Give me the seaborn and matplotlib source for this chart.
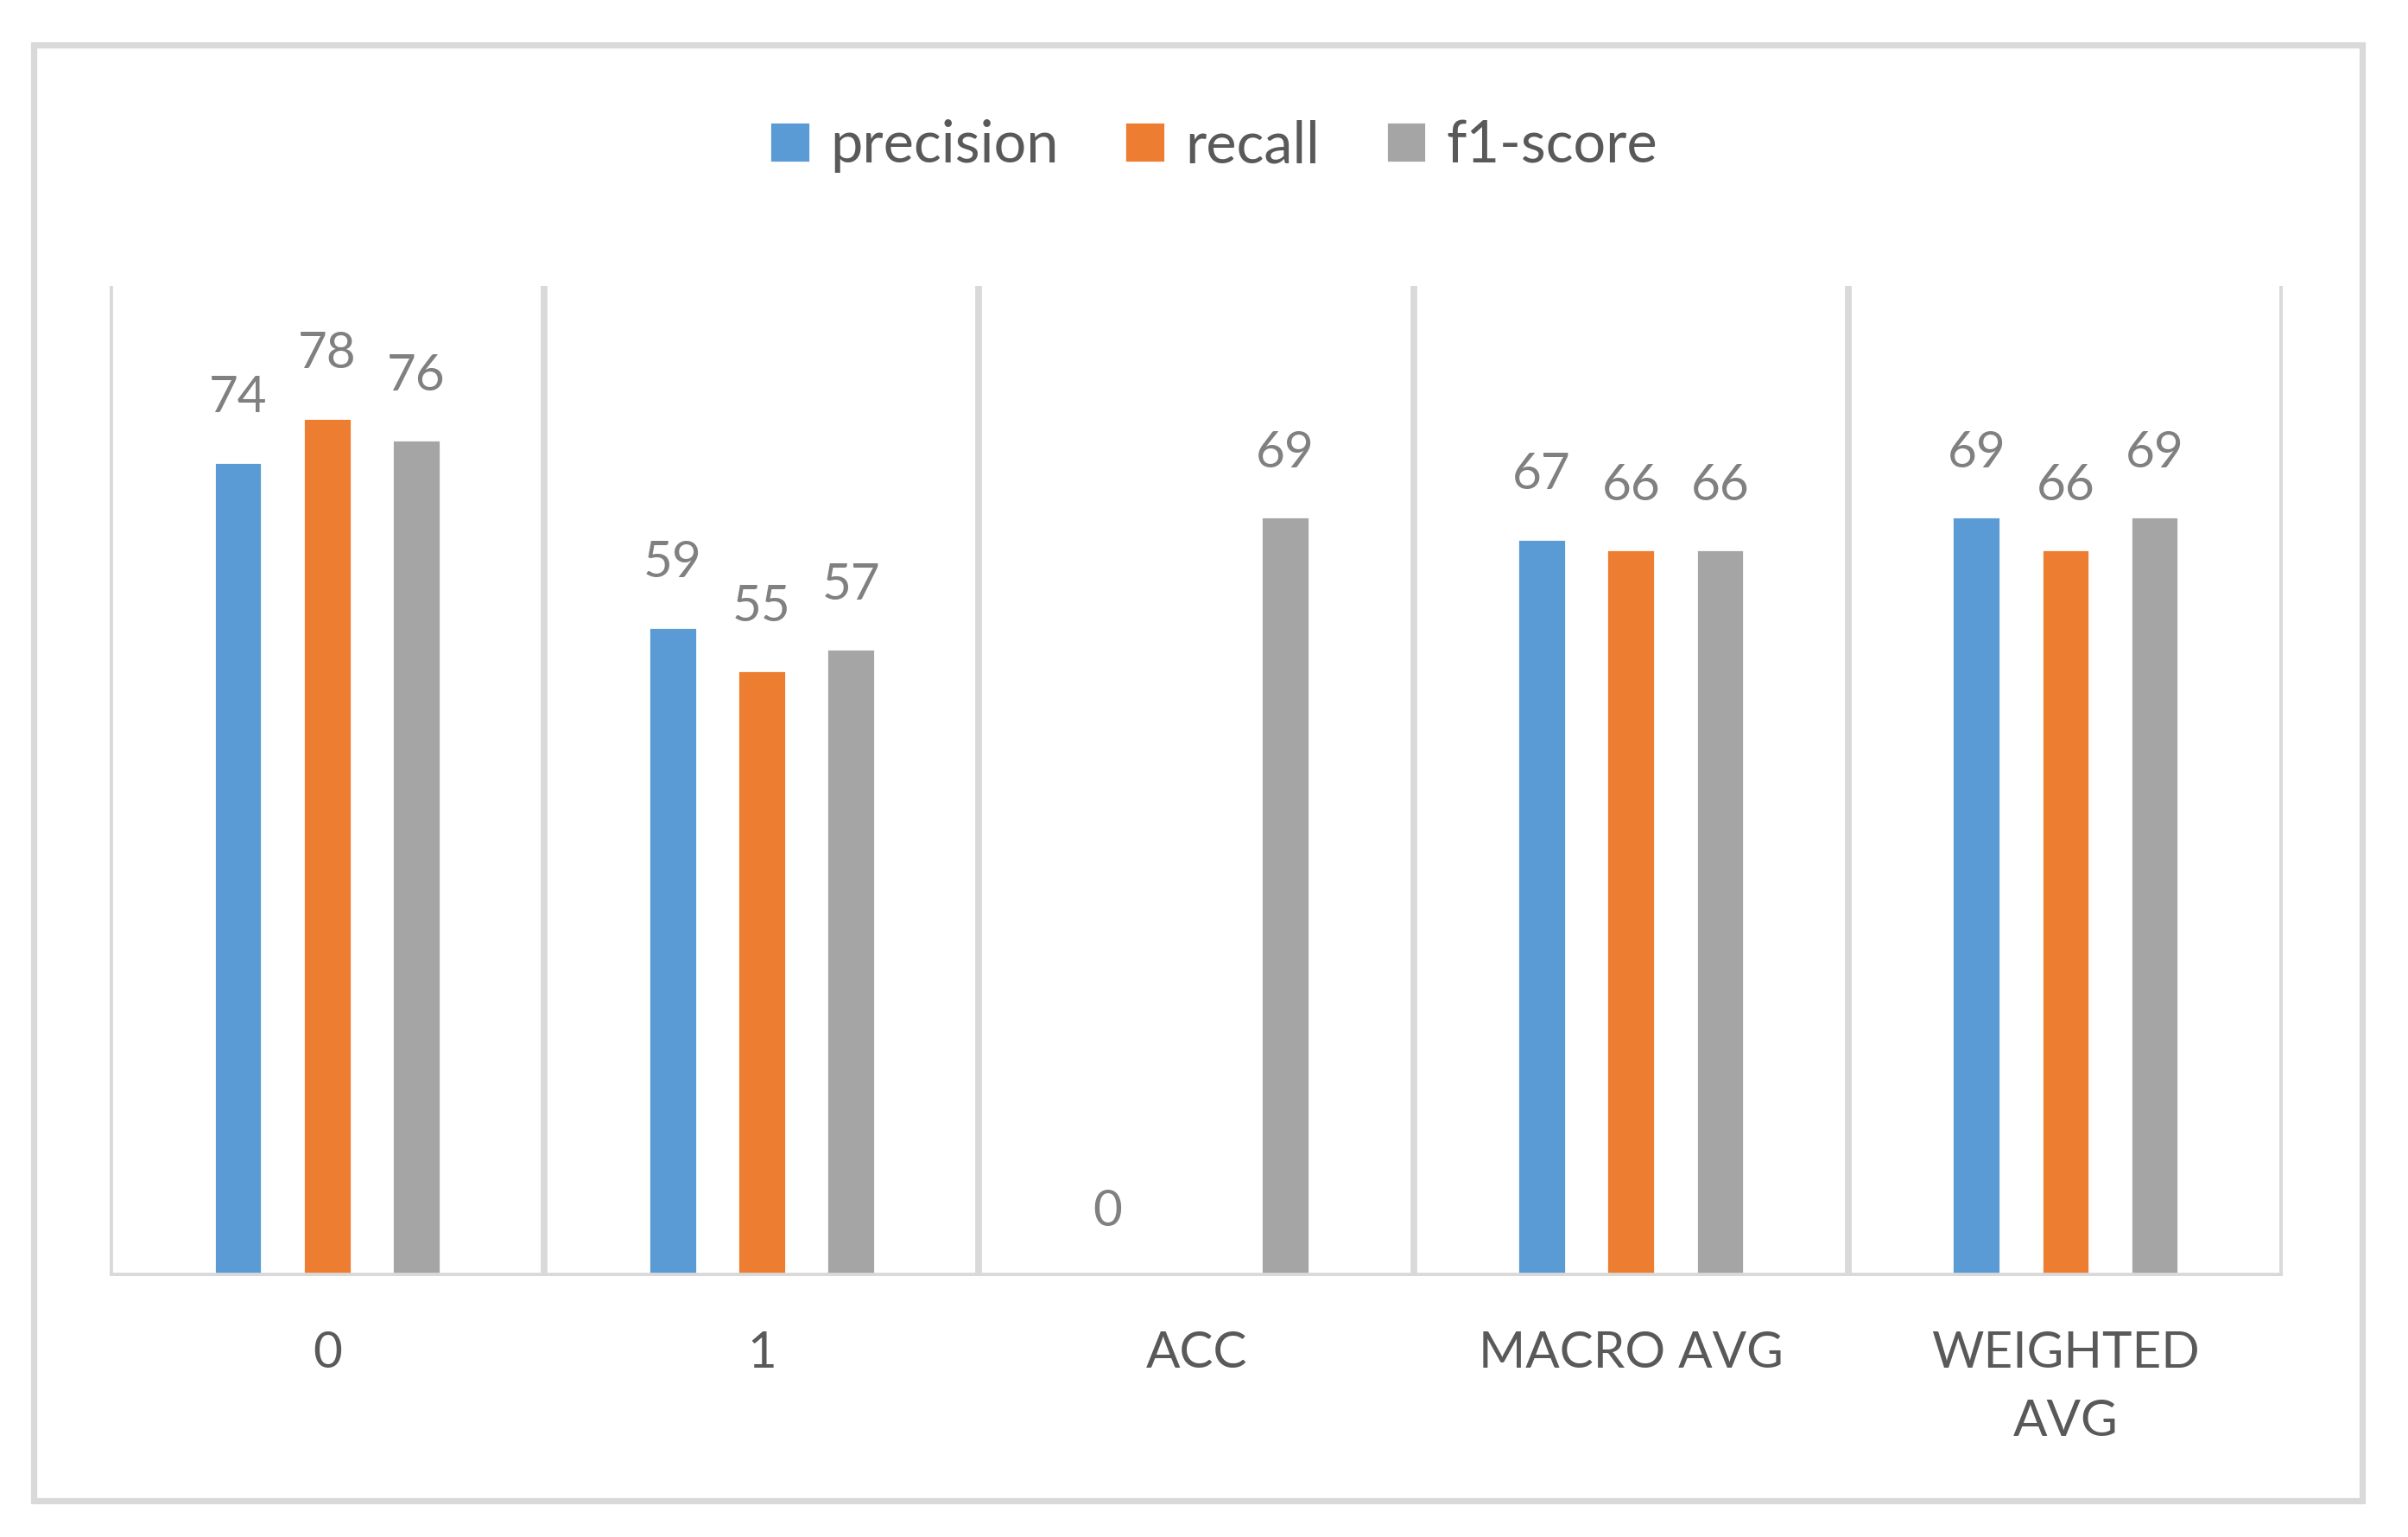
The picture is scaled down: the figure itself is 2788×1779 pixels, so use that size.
import numpy as np
import pandas as pd
import matplotlib
matplotlib.use("Agg")
import matplotlib.pyplot as plt
import seaborn as sns
from matplotlib.patches import Rectangle

# chart data
categories = ["0", "1", "ACC", "MACRO AVG", "WEIGHTED\nAVG"]
precision = [74, 59, 0, 67, 69]
recall = [78, 55, np.nan, 66, 66]
f1_score = [76, 57, 69, 66, 69]
metrics = ["precision", "recall", "f1-score"]
colors = ["#5B9BD5", "#ED7D31", "#A5A5A5"]

df = pd.DataFrame({
    "category": categories * 3,
    "metric": np.repeat(metrics, len(categories)),
    "value": precision + recall + f1_score,
}).dropna()

sns.set_style("white")
plt.rcParams["font.family"] = ["Lato", "DejaVu Sans"]

fig = plt.figure(figsize=(13.94, 8.895), dpi=200)
ax = fig.add_axes([0.0456, 0.170, 0.9024, 0.644])

sns.barplot(data=df, x="category", y="value", hue="metric", order=categories,
            hue_order=metrics, palette=colors, width=0.615, gap=0.46,
            saturation=1, ax=ax, legend=True)

for cont in ax.containers:
    ax.bar_label(cont, fmt="%.0f", padding=17, fontsize=21, color="#808080")

ax.set_xlim(-0.5, len(categories) - 0.5)
ax.set_ylim(0, 90)
ax.set_yticks([])
ax.set_xlabel("")
ax.set_ylabel("")
for s in ax.spines.values():
    s.set_visible(False)

grid_col = "#D9D9D9"
for xb in np.arange(-0.5, len(categories), 1.0):
    ax.axvline(xb, color=grid_col, lw=2.8, zorder=0)
ax.axhline(0, color=grid_col, lw=2.8, zorder=3)

ax.tick_params(axis="x", length=0, pad=23, labelsize=21, labelcolor="#595959")
for lbl in ax.get_xticklabels():
    lbl.set_linespacing(1.6)
    lbl.set_verticalalignment("top")

handles, labels = ax.get_legend_handles_labels()
ax.legend_.remove()
fig.legend(handles, labels, loc="center", bbox_to_anchor=(0.504, 0.905),
           ncol=3, frameon=False, fontsize=24, labelcolor="#595959",
           handlelength=0.7, handleheight=0.7, handletextpad=0.35,
           columnspacing=1.15)

fig.patches.append(Rectangle((0.014, 0.0236), 0.967, 0.947,
                             transform=fig.transFigure, fill=False,
                             edgecolor=grid_col, lw=2.6))

fig.savefig("out.png", dpi=200, facecolor="white")
